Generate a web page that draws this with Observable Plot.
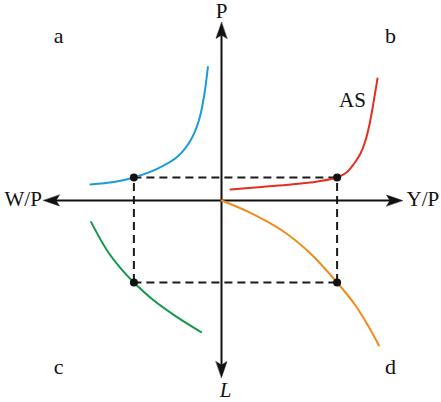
<!DOCTYPE html>
<html>
<head>
<meta charset="utf-8">
<script src="https://cdn.jsdelivr.net/npm/d3@7"></script>
<script src="https://cdn.jsdelivr.net/npm/@observablehq/plot@0.6"></script>
<style>
  html, body { margin: 0; padding: 0; background: #fff; }
  #chart svg { display: block; }
</style>
</head>
<body>
<div id="chart"></div>
<script>
// Curves (abstract units, origin at axis crossing)
const blueX  = [-6.55, -5.38, -4.38, -3.22, -2.22, -1.55, -1.13, -0.88, -0.68];
const blueY  = [0.8, 0.92, 1.15, 1.58, 2.17, 3.0, 4.0, 5.17, 6.67];
const redX   = [0.45, 2.0, 3.5, 4.8, 5.78, 6.25, 6.6, 6.95, 7.2, 7.4, 7.55, 7.8];
const redY   = [0.55, 0.68, 0.8, 0.95, 1.15, 1.4, 1.8, 2.35, 3.0, 3.8, 4.6, 6.1];
const greenX = [-6.52, -5.72, -5.05, -4.38, -3.38, -2.22, -1.02];
const greenY = [-1.08, -2.5, -3.38, -4.1, -5.0, -5.83, -6.58];
const orangeX = [0, 1.37, 3.03, 4.37, 5.78, 6.7, 7.37, 7.87];
const orangeY = [0, -0.58, -1.5, -2.58, -4.1, -5.25, -6.33, -7.25];

// Equilibrium values
const eqWP = -4.38, eqYP = 5.78, eqP = 1.15, eqL = -4.1;

// Axis extents
const axisXMin = -8.9, axisXMax = 9.05, axisYMin = -8.85, axisYMax = 8.9;

// Labels
const axisLabels = ["P", "W/P", "Y/P", "L"];
const quadrantLabels = ["a", "b", "c", "d"];
const curveLabel = "AS";

const pts = (xs, ys) => xs.map((x, i) => ({x, y: ys[i]}));

const arrowShape = {
  draw(context, l, r) {
    context.moveTo(0, -l);
    context.lineTo(-r, 0);
    context.lineTo(0, -l * 0.22);
    context.lineTo(r, 0);
    context.closePath();
  }
};
const tips = [
  {x: 0, y: axisYMax, a: 0},
  {x: axisXMax, y: 0, a: 90},
  {x: 0, y: axisYMin, a: 180},
  {x: axisXMin, y: 0, a: 270}
];

const eqPoints = [
  {x: eqWP, y: eqP}, {x: eqYP, y: eqP},
  {x: eqWP, y: eqL}, {x: eqYP, y: eqL}
];

const font = "'Liberation Serif', 'Times New Roman', serif";

const chart = Plot.plot({
  width: 441,
  height: 402,
  margin: 0,
  x: {domain: [-11, 11], range: [1, 441], axis: null},
  y: {domain: [-10, 10], range: [400, 0], axis: null},
  style: {fontFamily: font, background: "#fff"},
  marks: [
    // dashed guide rectangle
    Plot.ruleY([eqP, eqL], {x1: eqWP, x2: eqYP, stroke: "#1a1a1a", strokeWidth: 2, strokeDasharray: "8,5"}),
    Plot.ruleX([eqWP, eqYP], {y1: eqL, y2: eqP, stroke: "#1a1a1a", strokeWidth: 2, strokeDasharray: "8,5"}),
    // axes
    Plot.ruleY([0], {x1: axisXMin + 0.3, x2: axisXMax - 0.3, stroke: "#111", strokeWidth: 2}),
    Plot.ruleX([0], {y1: axisYMin + 0.3, y2: axisYMax - 0.3, stroke: "#111", strokeWidth: 2}),
    Plot.vector(tips, {x: "x", y: "y", rotate: "a", length: 16, r: 5.5, anchor: "end", shape: arrowShape, fill: "#111", stroke: "#111", strokeWidth: 0.5}),
    // curves
    Plot.line(pts(blueX, blueY), {x: "x", y: "y", stroke: "#1b9bd7", strokeWidth: 2, curve: "catmull-rom"}),
    Plot.line(pts(redX, redY), {x: "x", y: "y", stroke: "#e0301e", strokeWidth: 2, curve: "catmull-rom"}),
    Plot.line(pts(greenX, greenY), {x: "x", y: "y", stroke: "#129a48", strokeWidth: 2, curve: "catmull-rom"}),
    Plot.line(pts(orangeX, orangeY), {x: "x", y: "y", stroke: "#f08a1c", strokeWidth: 2, curve: "catmull-rom"}),
    // equilibrium dots
    Plot.dot(eqPoints, {x: "x", y: "y", r: 4, fill: "#111", stroke: "none"}),
    // axis labels
    Plot.text([axisLabels[0]], {x: 0, y: 9.45, text: d => d, fontSize: 21, fill: "#111"}),
    Plot.text([axisLabels[1]], {x: -10.85, y: 0.05, text: d => d, fontSize: 21, textAnchor: "start", fill: "#111"}),
    Plot.text([axisLabels[2]], {x: 9.25, y: 0.05, text: d => d, fontSize: 21, textAnchor: "start", fill: "#111"}),
    Plot.text([axisLabels[3]], {x: 0.2, y: -9.5, text: d => d, fontSize: 21, fontStyle: "italic", fill: "#111"}),
    // quadrant labels
    Plot.text(quadrantLabels, {
      x: (d, i) => [-8.15, 8.45, -8.15, 8.45][i],
      y: (d, i) => [8.25, 8.25, -8.3, -8.3][i],
      text: d => d, fontSize: 22, fill: "#111"
    }),
    Plot.text([curveLabel], {x: 6.55, y: 5.0, text: d => d, fontSize: 21, fill: "#111"})
  ]
});
document.getElementById("chart").appendChild(chart);
</script>
</body>
</html>
